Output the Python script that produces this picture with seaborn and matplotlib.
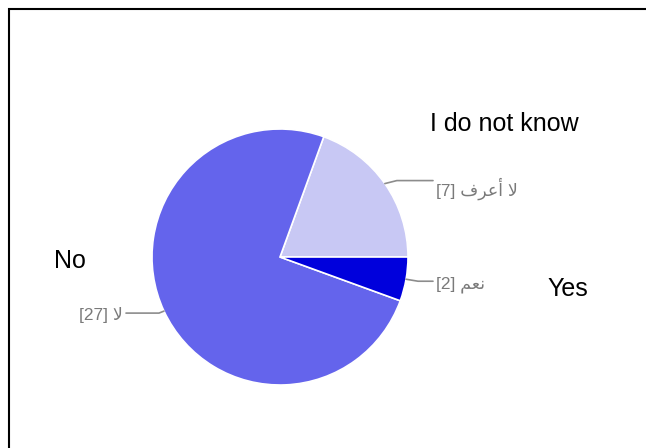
import numpy as np
import matplotlib
matplotlib.use("Agg")
import matplotlib.pyplot as plt
import seaborn as sns
from matplotlib.patches import Rectangle

sns.set_theme(style="white")
plt.rcParams['font.family'] = ['Liberation Sans', 'DejaVu Sans']

# Data (order: counter-clockwise from 3 o'clock)
categories = ["لا أعرف", "لا", "نعم"]
# visual (shaped, left-to-right) forms of the Arabic labels
labels_visual = ["[7] ﻑﺮﻋﺃ ﻻ", "[27] ﻻ", "[2] ﻢﻌﻧ"]
values = [7, 27, 2]
english = ["I do not know", "No", "Yes"]
colors = sns.color_palette(["#c8c8f4", "#6464ec", "#0000dc"])

W, H = 646, 448
fig = plt.figure(figsize=(W / 100, H / 100), dpi=100)
ax = fig.add_axes([0, 0, 1, 1])

cx, cy, r = 280, H - 257, 128
wedges, _ = ax.pie(values, colors=colors, startangle=0, counterclock=True,
                   center=(cx, cy), radius=r,
                   wedgeprops=dict(edgecolor="white", linewidth=1.2))
ax.set_xlim(0, W)
ax.set_ylim(0, H)
ax.set_aspect("equal")
ax.axis("off")

label_gray = "#7a7a7a"
line_gray = "#8c8c8c"
for i, w in enumerate(wedges):
    mid = np.deg2rad((w.theta1 + w.theta2) / 2)
    x0, y0 = cx + r * np.cos(mid), cy + r * np.sin(mid)
    if np.cos(mid) >= 0:
        x1, y1 = x0 + 12, y0 + (3 if np.sin(mid) > 0 else -2)
        x2 = 433
        ax.plot([x0, x1, x2], [y0, y1, y1], color=line_gray, lw=1.2)
        ax.text(x2 + 3, y1 - 8 if np.sin(mid) > 0 else y1 - 4, labels_visual[i],
                ha="left", va="center", color=label_gray, fontsize=12.5)
    else:
        x1, y1 = x0 - 5, y0 - 2
        x2 = 126
        ax.plot([x0, x1, x2], [y0, y1, y1], color=line_gray, lw=1.2)
        ax.text(x2 - 3, y1 - 2, labels_visual[i], ha="right", va="center",
                color=label_gray, fontsize=12.5)

# English annotations
ax.text(430, H - 131, english[0], fontsize=18, color="black", ha="left", va="baseline")
ax.text(54, H - 268, english[1], fontsize=18, color="black", ha="left", va="baseline")
ax.text(547, H - 296, english[2], fontsize=18, color="black", ha="left", va="baseline")

# Frame (extends beyond right/bottom edge)
fig.patches.append(Rectangle((8.5 / W, -0.1), 1.2, (H - 9.5) / H + 0.1,
                             transform=fig.transFigure, fill=False,
                             edgecolor="black", linewidth=1.5))

fig.savefig("out.png", dpi=100)
